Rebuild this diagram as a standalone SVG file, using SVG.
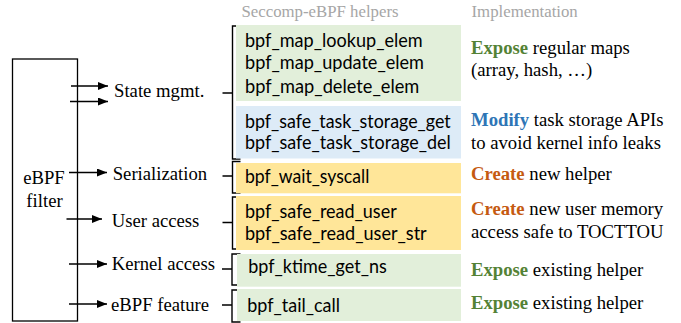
<svg xmlns="http://www.w3.org/2000/svg" width="681" height="323" viewBox="0 0 681 323">
<style>
.hdr{font-family:"Liberation Serif","Times New Roman",serif;font-size:16.8px;fill:#A6A6A6}
.lbl{font-family:"Liberation Serif","Times New Roman",serif;font-size:18.7px;fill:#000}
.impl{font-family:"Liberation Serif","Times New Roman",serif;font-size:18.7px;fill:#000}
.hlp{font-family:Lato,"Open Sans",sans-serif;font-size:18.7px;fill:#000}
.ex{font-weight:bold;fill:#548235}
.mo{font-weight:bold;fill:#2E75B6}
.cr{font-weight:bold;fill:#C55A11}
.g{fill:#E2EFDA}
.b{fill:#DDEBF7}
.y{fill:#FFE699}
.br{fill:none;stroke:#000;stroke-width:1.4}
.ar{stroke:#000;stroke-width:1.3;fill:none}
</style>
<defs>
<marker id="ah" markerWidth="10" markerHeight="8" refX="10" refY="4" orient="auto" markerUnits="userSpaceOnUse">
<path d="M0,0 L10,4 L0,8 Z" fill="#000"/>
</marker>
</defs>
<rect width="681" height="323" fill="#fff"/>
<text class="hdr" x="241.5" y="17">Seccomp-eBPF helpers</text>
<text class="hdr" x="471.5" y="17">Implementation</text>

<g id="filter">
<rect x="12.5" y="59" width="65" height="262" fill="none" stroke="#000" stroke-width="1.3"/>
<text class="lbl" x="44" y="184" text-anchor="middle">eBPF</text>
<text class="lbl" x="44.5" y="206.5" text-anchor="middle">filter</text>
</g>

<g id="connectors">
<line class="ar" x1="71" y1="86" x2="108" y2="86" marker-end="url(#ah)"/>
<line class="ar" x1="70" y1="101.5" x2="108" y2="101.5" marker-end="url(#ah)"/>
<line class="ar" x1="69" y1="172.5" x2="107" y2="172.5" marker-end="url(#ah)"/>
<line class="ar" x1="66.5" y1="219" x2="102" y2="219" marker-end="url(#ah)"/>
<line class="ar" x1="69" y1="264" x2="107" y2="264" marker-end="url(#ah)"/>
<line class="ar" x1="69" y1="304" x2="107" y2="304" marker-end="url(#ah)"/>
<path class="br" d="M240.5,26 H232.5 V159 H240.5 M222.5,93 H232.5"/>
<path class="br" d="M240.5,161.5 H232.5 V193 H240.5 M222.5,176 H232.5"/>
<path class="br" d="M240.5,197 H232.5 V249 H240.5 M222.5,222.5 H232.5"/>
<path class="br" d="M240.5,254 H232 V285 H240.5 M222,269 H232"/>
<path class="br" d="M240.5,290 H232 V322 H240.5 M222,305 H232"/>
</g>

<g id="state">
<text class="lbl" x="114" y="97">State mgmt.</text>
<rect class="g" x="236" y="25" width="225" height="76"/>
<text class="hlp" x="245" y="47" textLength="177.7" lengthAdjust="spacingAndGlyphs">bpf_map_lookup_elem</text>
<text class="hlp" x="245" y="68.5" textLength="179" lengthAdjust="spacingAndGlyphs">bpf_map_update_elem</text>
<text class="hlp" x="245" y="92.5" textLength="174.3" lengthAdjust="spacingAndGlyphs">bpf_map_delete_elem</text>
<rect class="b" x="236" y="106" width="225" height="52.5"/>
<text class="hlp" x="245" y="128.3" textLength="205.7" lengthAdjust="spacingAndGlyphs">bpf_safe_task_storage_get</text>
<text class="hlp" x="245" y="149" textLength="205.7" lengthAdjust="spacingAndGlyphs">bpf_safe_task_storage_del</text>
<text class="impl" x="471" y="54.3"><tspan class="ex">Expose</tspan> regular maps</text>
<text class="impl" x="471" y="76">(array, hash, …)</text>
<text class="impl" x="471" y="126"><tspan class="mo">Modify</tspan> task storage APIs</text>
<text class="impl" x="471" y="149.3">to avoid kernel info leaks</text>
</g>

<g id="serialization">
<text class="lbl" x="112.7" y="180">Serialization</text>
<rect class="y" x="236" y="163" width="225" height="30.3"/>
<text class="hlp" x="245" y="183.3" textLength="124.3" lengthAdjust="spacingAndGlyphs">bpf_wait_syscall</text>
<text class="impl" x="471" y="180"><tspan class="cr">Create</tspan> new helper</text>
</g>

<g id="user">
<text class="lbl" x="111.7" y="226.5">User access</text>
<rect class="y" x="236" y="196" width="225" height="54"/>
<text class="hlp" x="245" y="218.3" textLength="151.7" lengthAdjust="spacingAndGlyphs">bpf_safe_read_user</text>
<text class="hlp" x="245" y="240" textLength="181.7" lengthAdjust="spacingAndGlyphs">bpf_safe_read_user_str</text>
<text class="impl" x="471" y="215"><tspan class="cr">Create</tspan> new user memory</text>
<text class="impl" x="471" y="238.3">access safe to TOCTTOU</text>
</g>

<g id="kernel">
<text class="lbl" x="111.7" y="270">Kernel access</text>
<rect class="g" x="237" y="254" width="224" height="32.7"/>
<text class="hlp" x="248.3" y="273.3" textLength="138.4" lengthAdjust="spacingAndGlyphs">bpf_ktime_get_ns</text>
<text class="impl" x="471" y="276"><tspan class="ex">Expose</tspan> existing helper</text>
</g>

<g id="feature">
<text class="lbl" x="111" y="310.5">eBPF feature</text>
<rect class="g" x="237" y="289" width="224" height="32"/>
<text class="hlp" x="247.3" y="311.5" textLength="92.7" lengthAdjust="spacingAndGlyphs">bpf_tail_call</text>
<text class="impl" x="471" y="309.3"><tspan class="ex">Expose</tspan> existing helper</text>
</g>
</svg>
